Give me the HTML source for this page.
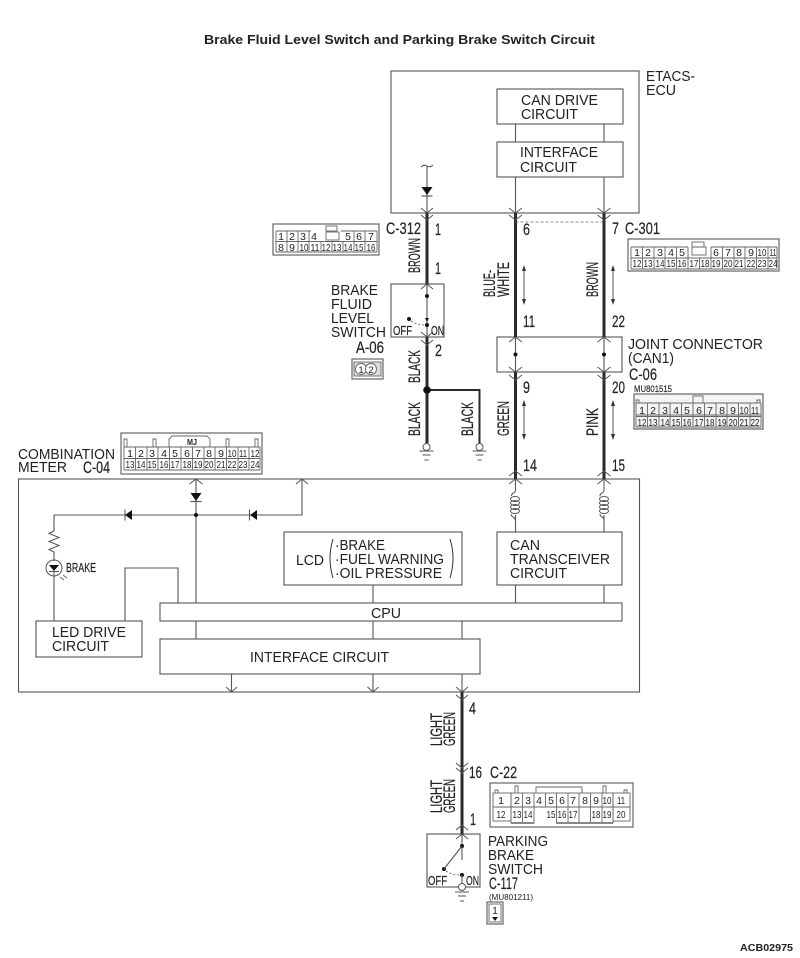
<!DOCTYPE html>
<html><head><meta charset="utf-8"><style>
html,body{margin:0;padding:0;background:#fff}
svg{display:block;filter:blur(.3px)}
text{font-family:"Liberation Sans",sans-serif;fill:#222}
.s{font-size:14.4px}
.n{font-size:16.5px}
.n text{stroke:#222;stroke-width:.2}
.c text{font-size:10.5px;text-anchor:middle}
.w{fill:none;stroke:#555;stroke-width:1.1}
.t{fill:none;stroke:#2a2a2a;stroke-width:3}
.k{fill:none;stroke:#555;stroke-width:1}
.g{fill:none;stroke:#666;stroke-width:.9}
</style></head><body>
<svg width="800" height="958" viewBox="0 0 800 958" xmlns="http://www.w3.org/2000/svg">
<text x="204" y="44" font-size="12.8" font-weight="bold" textLength="391" lengthAdjust="spacingAndGlyphs">Brake Fluid Level Switch and Parking Brake Switch Circuit</text>
<text x="740" y="951" font-size="10.5" font-weight="bold" textLength="53" lengthAdjust="spacingAndGlyphs">ACB02975</text>

<!-- boxes -->
<g class="w">
<rect x="391" y="71" width="248" height="142"/>
<rect x="497" y="89" width="126" height="35"/>
<rect x="497" y="142" width="126" height="35"/>
<rect x="391" y="284" width="53" height="53"/>
<rect x="497" y="337" width="125" height="35"/>
<rect x="18.500" y="479" width="621" height="213"/>
<rect x="284" y="532" width="178" height="53"/>
<rect x="497" y="532" width="125" height="53"/>
<rect x="160" y="603" width="462" height="18"/>
<rect x="160" y="639" width="320" height="35"/>
<rect x="36" y="621" width="106" height="36"/>
<rect x="427" y="834" width="53" height="53"/>
<!-- thin wires -->
<path d="M515.500 124V142M604 124V142M515.500 177V213M604 177V213M427 166V213"/>
<path d="M427 284V337M515.500 337V372M604 337V372"/>
<path d="M515.500 515V532M604 515V532M515.500 585V603M604 585V603"/>
<path d="M373 585V603M373 621V639M462 621V639M196 621V639M196 479V603"/>
<path d="M302 479V515H54V531M54 552V621M125 621V568H178V603"/>
<path d="M231.500 674V692M373 674V692M462 674V692"/>
<path d="M462 834V860"/>
</g>
<path d="M421 167q3-3 6-1t6-1" class="k"/>
<path d="M54 531l-5 2.500 10 4-10 4 10 4-10 4 5 2.500" class="k"/>

<!-- coils -->
<g class="k">
<path d="M515.500 479V490q0 2-2 3t-2 3M511 514q0 2 2 3t2.500 3V532"/>
<ellipse cx="515" cy="499" rx="4.500" ry="2.500"/><ellipse cx="515" cy="503" rx="4.500" ry="2.500"/><ellipse cx="515" cy="507" rx="4.500" ry="2.500"/><ellipse cx="515" cy="511" rx="4.500" ry="2.500"/>
<path d="M604 479V490q0 2-2 3t-2 3M600 514q0 2 2 3t2 3V532"/>
<ellipse cx="604" cy="499" rx="4.500" ry="2.500"/><ellipse cx="604" cy="503" rx="4.500" ry="2.500"/><ellipse cx="604" cy="507" rx="4.500" ry="2.500"/><ellipse cx="604" cy="511" rx="4.500" ry="2.500"/>
</g>

<!-- thick wires -->
<path class="t" d="M427 213V284M427 337V443M515.500 213V337M515.500 372V479M604 213V337M604 372V479M462 692V834"/>
<path d="M427 390H479.500V443" fill="none" stroke="#2a2a2a" stroke-width="2"/>
<circle cx="427" cy="390" r="3.800" fill="#111"/>
<path d="M515.500 222H604" fill="none" stroke="#666" stroke-width=".8" stroke-dasharray="3 2"/>

<!-- chevrons -->
<g class="k">
<path d="M421 208l6 5 6-5M421 215l6 5 6-5M509 208l6.500 5 6.500-5M509 215l6.500 5 6.500-5M597.500 208l6.500 5 6.500-5M597.500 215l6.500 5 6.500-5"/>
<path d="M421 289l6-5 6 5M421 332l6 5 6-5M421 340l6 5 6-5"/>
<path d="M509 342l6.500-5 6.500 5M597.500 342l6.500-5 6.500 5M509 367l6.500 5 6.500-5M509 375l6.500 5 6.500-5M597.500 367l6.500 5 6.500-5M597.500 375l6.500 5 6.500-5"/>
<path d="M509 484l6.500-5 6.500 5M597.500 484l6.500-5 6.500 5M509 476l6.500-5 6.500 5M597.500 476l6.500-5 6.500 5M189.500 484l6.500-5 6.500 5M296 484l6-5 6 5"/>
<path d="M226 687l5.500 5 5.500-5M367.500 687l5.500 5 5.500-5M456 687l6 5 6-5M456 695l6 5 6-5M456 763l6 5 6-5M456 768l6 5 6-5M456 839l6-5 6 5M456 830l6-5 6 5"/>
</g>

<!-- diodes -->
<path d="M421.500 187h11l-5.500 8z" fill="#111"/><path d="M421.500 196h11" class="w"/>
<path d="M190.500 493h11l-5.500 8z" fill="#111"/><path d="M190.500 501.500h11" class="w"/>
<path d="M132 510v10l-7-5z" fill="#111"/><path d="M125 509.500v11" class="w"/>
<path d="M257 510v10l-7-5z" fill="#111"/><path d="M249.500 509.500v11" class="w"/>
<circle cx="196" cy="515" r="2" fill="#111"/>
<circle cx="515.500" cy="354.500" r="2" fill="#111"/><circle cx="604" cy="354.500" r="2" fill="#111"/>

<!-- LED -->
<circle cx="54" cy="568" r="8" fill="#fff" stroke="#555"/>
<path d="M49 565h10l-5 6z" fill="#111"/><path d="M49 571.500h10M54 555v6M54 572v5" class="k"/>
<path d="M60 577l4 3M63 575l4 3" class="g"/>
<text x="66" y="572" font-size="12.500" stroke="#222" stroke-width=".2" textLength="30" lengthAdjust="spacingAndGlyphs">BRAKE</text>

<!-- double arrows -->
<g class="k">
<path d="M524 268V302M613 268V302M524 403V437M613 403V437"/>
</g>
<g fill="#333">
<path d="M522 271l2-6 2 6zM522 299l2 6 2-6zM611 271l2-6 2 6zM611 299l2 6 2-6zM522 406l2-6 2 6zM522 434l2 6 2-6zM611 406l2-6 2 6zM611 434l2 6 2-6z"/>
</g>

<!-- brake switch -->
<circle cx="427" cy="296" r="2" fill="#111"/>
<circle cx="409" cy="319" r="2" fill="#111"/>
<circle cx="427" cy="325" r="2" fill="#111"/>
<path d="M425 318h4l-2 4z" fill="#111"/>
<path d="M411 321q6 4 14 4" fill="none" stroke="#555" stroke-dasharray="2 2" stroke-width=".8"/>
<text x="393" y="335" font-size="13" stroke="#222" stroke-width=".2" textLength="19" lengthAdjust="spacingAndGlyphs">OFF</text>
<text x="431" y="335" font-size="13" stroke="#222" stroke-width=".2" textLength="13" lengthAdjust="spacingAndGlyphs">ON</text>

<!-- parking switch -->
<circle cx="462" cy="846" r="2" fill="#111"/><circle cx="444" cy="869" r="2" fill="#111"/><circle cx="462" cy="875" r="2" fill="#111"/>
<path d="M462 846L444 869M462 875V884" class="w"/>
<path d="M446 871q6 4 14 4" fill="none" stroke="#555" stroke-dasharray="2 2" stroke-width=".8"/>
<text x="428" y="885" font-size="13" stroke="#222" stroke-width=".2" textLength="19" lengthAdjust="spacingAndGlyphs">OFF</text>
<text x="466" y="885" font-size="13" stroke="#222" stroke-width=".2" textLength="13" lengthAdjust="spacingAndGlyphs">ON</text>
<circle cx="462" cy="887" r="3.500" fill="#fff" stroke="#555"/>
<path d="M455 892h14M458 896h8M460 901h4" class="k"/>

<!-- grounds -->
<circle cx="426.500" cy="447" r="3.500" fill="#fff" stroke="#555"/><path d="M419.500 451h14M422.500 455h8M424.500 460h4" class="k"/>
<circle cx="479.500" cy="447" r="3.500" fill="#fff" stroke="#555"/><path d="M472.500 451h14M475.500 455h8M477.500 460h4" class="k"/>

<!-- Sans labels -->
<g class="s">
<text x="646" y="81" textLength="49" lengthAdjust="spacingAndGlyphs">ETACS-</text>
<text x="646" y="95" textLength="30" lengthAdjust="spacingAndGlyphs">ECU</text>
<text x="521" y="105" textLength="77" lengthAdjust="spacingAndGlyphs">CAN DRIVE</text>
<text x="521" y="119" textLength="57" lengthAdjust="spacingAndGlyphs">CIRCUIT</text>
<text x="520" y="157" textLength="78" lengthAdjust="spacingAndGlyphs">INTERFACE</text>
<text x="520" y="172" textLength="57" lengthAdjust="spacingAndGlyphs">CIRCUIT</text>
<text x="331" y="295" textLength="47" lengthAdjust="spacingAndGlyphs">BRAKE</text>
<text x="331" y="309" textLength="41" lengthAdjust="spacingAndGlyphs">FLUID</text>
<text x="331" y="323" textLength="43" lengthAdjust="spacingAndGlyphs">LEVEL</text>
<text x="331" y="337" textLength="55" lengthAdjust="spacingAndGlyphs">SWITCH</text>
<text x="628" y="349" textLength="135" lengthAdjust="spacingAndGlyphs">JOINT CONNECTOR</text>
<text x="628" y="363" textLength="46" lengthAdjust="spacingAndGlyphs">(CAN1)</text>
<text x="18" y="459" textLength="97" lengthAdjust="spacingAndGlyphs">COMBINATION</text>
<text x="18" y="472" textLength="49" lengthAdjust="spacingAndGlyphs">METER</text>
<text x="296" y="565" textLength="28" lengthAdjust="spacingAndGlyphs">LCD</text>
<text x="335" y="550" textLength="50" lengthAdjust="spacingAndGlyphs">·BRAKE</text>
<text x="335" y="564" textLength="109" lengthAdjust="spacingAndGlyphs">·FUEL WARNING</text>
<text x="335" y="578" textLength="107" lengthAdjust="spacingAndGlyphs">·OIL PRESSURE</text>
<text x="510" y="550" textLength="30" lengthAdjust="spacingAndGlyphs">CAN</text>
<text x="510" y="564" textLength="100" lengthAdjust="spacingAndGlyphs">TRANSCEIVER</text>
<text x="510" y="578" textLength="57" lengthAdjust="spacingAndGlyphs">CIRCUIT</text>
<text x="371" y="618" textLength="30" lengthAdjust="spacingAndGlyphs">CPU</text>
<text x="250" y="662" textLength="139" lengthAdjust="spacingAndGlyphs">INTERFACE CIRCUIT</text>
<text x="52" y="637" textLength="74" lengthAdjust="spacingAndGlyphs">LED DRIVE</text>
<text x="52" y="651" textLength="57" lengthAdjust="spacingAndGlyphs">CIRCUIT</text>
<text x="488" y="846" textLength="60" lengthAdjust="spacingAndGlyphs">PARKING</text>
<text x="488" y="860" textLength="46" lengthAdjust="spacingAndGlyphs">BRAKE</text>
<text x="488" y="874" textLength="55" lengthAdjust="spacingAndGlyphs">SWITCH</text>
</g>
<path d="M333 539q-6 19 0 39M450 539q6 19 0 39" fill="none" stroke="#333" stroke-width="1"/>

<!-- narrow labels -->
<g class="n">
<text x="386" y="234" textLength="35" lengthAdjust="spacingAndGlyphs">C-312</text>
<text x="435" y="235" textLength="6" lengthAdjust="spacingAndGlyphs">1</text>
<text x="435" y="274" textLength="6" lengthAdjust="spacingAndGlyphs">1</text>
<text x="435" y="356" textLength="7" lengthAdjust="spacingAndGlyphs">2</text>
<text x="356" y="353" textLength="28" lengthAdjust="spacingAndGlyphs">A-06</text>
<text x="523" y="235" textLength="7" lengthAdjust="spacingAndGlyphs">6</text>
<text x="612" y="234" textLength="7" lengthAdjust="spacingAndGlyphs">7</text>
<text x="625" y="234" textLength="35" lengthAdjust="spacingAndGlyphs">C-301</text>
<text x="523" y="327" textLength="12" lengthAdjust="spacingAndGlyphs">11</text>
<text x="612" y="327" textLength="13" lengthAdjust="spacingAndGlyphs">22</text>
<text x="523" y="393" textLength="7" lengthAdjust="spacingAndGlyphs">9</text>
<text x="612" y="393" textLength="13" lengthAdjust="spacingAndGlyphs">20</text>
<text x="629" y="380" textLength="28" lengthAdjust="spacingAndGlyphs">C-06</text>
<text x="523" y="471" textLength="14" lengthAdjust="spacingAndGlyphs">14</text>
<text x="612" y="471" textLength="13" lengthAdjust="spacingAndGlyphs">15</text>
<text x="83" y="473" textLength="27" lengthAdjust="spacingAndGlyphs">C-04</text>
<text x="469" y="714" textLength="7" lengthAdjust="spacingAndGlyphs">4</text>
<text x="469" y="778" textLength="13" lengthAdjust="spacingAndGlyphs">16</text>
<text x="490" y="778" textLength="27" lengthAdjust="spacingAndGlyphs">C-22</text>
<text x="470" y="825" textLength="6" lengthAdjust="spacingAndGlyphs">1</text>
<text x="489" y="889" textLength="29" lengthAdjust="spacingAndGlyphs">C-117</text>
<!-- vertical -->
<text transform="translate(420,273) rotate(-90)" textLength="35" lengthAdjust="spacingAndGlyphs">BROWN</text>
<text transform="translate(420,383) rotate(-90)" textLength="33" lengthAdjust="spacingAndGlyphs">BLACK</text>
<text transform="translate(420,436) rotate(-90)" textLength="34" lengthAdjust="spacingAndGlyphs">BLACK</text>
<text transform="translate(473,436) rotate(-90)" textLength="34" lengthAdjust="spacingAndGlyphs">BLACK</text>
<text transform="translate(495,297) rotate(-90)" textLength="27" lengthAdjust="spacingAndGlyphs">BLUE-</text>
<text transform="translate(509,297) rotate(-90)" textLength="35" lengthAdjust="spacingAndGlyphs">WHITE</text>
<text transform="translate(598,297) rotate(-90)" textLength="35" lengthAdjust="spacingAndGlyphs">BROWN</text>
<text transform="translate(509,436) rotate(-90)" textLength="35" lengthAdjust="spacingAndGlyphs">GREEN</text>
<text transform="translate(598,436) rotate(-90)" textLength="28" lengthAdjust="spacingAndGlyphs">PINK</text>
<text transform="translate(442,746) rotate(-90)" textLength="33" lengthAdjust="spacingAndGlyphs">LIGHT</text>
<text transform="translate(455,746) rotate(-90)" textLength="34" lengthAdjust="spacingAndGlyphs">GREEN</text>
<text transform="translate(442,813) rotate(-90)" textLength="33" lengthAdjust="spacingAndGlyphs">LIGHT</text>
<text transform="translate(455,813) rotate(-90)" textLength="34" lengthAdjust="spacingAndGlyphs">GREEN</text>
</g>
<text x="634" y="392" font-size="9.500" stroke="#222" stroke-width=".15" textLength="38" lengthAdjust="spacingAndGlyphs">MU801515</text>
<text x="489" y="900" font-size="8.500" textLength="44" lengthAdjust="spacingAndGlyphs">(MU801211)</text>

<!-- C-312 -->
<g class="g">
<rect x="273" y="224" width="106" height="31" stroke-width="1.200"/>
<path d="M276 231h35M341 231h36M276 241.500h101M276 252h101M276 231v21M287 231v21M298 231v21M309 231v21M321 241.500v10.500M332 241.500v10.500M343 241.500v10.500M354 231v21M365 231v21M377 231v21"/>
<rect x="326" y="226" width="11" height="5"/><rect x="326" y="232" width="13" height="8"/>
</g>
<g class="c">
<text x="281" y="240">1</text><text x="292" y="240">2</text><text x="303" y="240">3</text><text x="314" y="240">4</text><text x="348" y="240">5</text><text x="359" y="240">6</text><text x="371" y="240">7</text>
<text x="281" y="251">8</text><text x="292" y="251">9</text><text x="304" y="251" textLength="9" lengthAdjust="spacingAndGlyphs">10</text><text x="315" y="251" textLength="9" lengthAdjust="spacingAndGlyphs">11</text><text x="326" y="251" textLength="9" lengthAdjust="spacingAndGlyphs">12</text><text x="337" y="251" textLength="9" lengthAdjust="spacingAndGlyphs">13</text><text x="348" y="251" textLength="9" lengthAdjust="spacingAndGlyphs">14</text><text x="359" y="251" textLength="9" lengthAdjust="spacingAndGlyphs">15</text><text x="371" y="251" textLength="9" lengthAdjust="spacingAndGlyphs">16</text>
</g>

<!-- C-301 -->
<g class="g">
<rect x="628" y="239" width="151" height="32" stroke-width="1.200"/>
<path d="M631 247h57M711 247h66M631 258h146M631 269h146M631 247v22M642.500 247v22M654 247v22M665 247v22M676.500 247v22M688 247v22M699.500 258v11M711 247v22M722.500 247v22M734 247v22M745 247v22M756.500 247v22M768 247v22M777 247v22"/>
<rect x="692" y="242" width="12" height="5"/><rect x="692" y="247" width="14" height="8"/>
</g>
<g class="c">
<text x="637" y="256">1</text><text x="648" y="256">2</text><text x="660" y="256">3</text><text x="671" y="256">4</text><text x="682" y="256">5</text><text x="716" y="256">6</text><text x="728" y="256">7</text><text x="739" y="256">8</text><text x="751" y="256">9</text><text x="762" y="256" textLength="9" lengthAdjust="spacingAndGlyphs">10</text><text x="773" y="256" textLength="7" lengthAdjust="spacingAndGlyphs">11</text>
<text x="637" y="267" textLength="9" lengthAdjust="spacingAndGlyphs">12</text><text x="648" y="267" textLength="9" lengthAdjust="spacingAndGlyphs">13</text><text x="660" y="267" textLength="9" lengthAdjust="spacingAndGlyphs">14</text><text x="671" y="267" textLength="9" lengthAdjust="spacingAndGlyphs">15</text><text x="682" y="267" textLength="9" lengthAdjust="spacingAndGlyphs">16</text><text x="694" y="267" textLength="9" lengthAdjust="spacingAndGlyphs">17</text><text x="705" y="267" textLength="9" lengthAdjust="spacingAndGlyphs">18</text><text x="716" y="267" textLength="9" lengthAdjust="spacingAndGlyphs">19</text><text x="728" y="267" textLength="9" lengthAdjust="spacingAndGlyphs">20</text><text x="739" y="267" textLength="9" lengthAdjust="spacingAndGlyphs">21</text><text x="751" y="267" textLength="9" lengthAdjust="spacingAndGlyphs">22</text><text x="762" y="267" textLength="9" lengthAdjust="spacingAndGlyphs">23</text><text x="773" y="267" textLength="9" lengthAdjust="spacingAndGlyphs">24</text>
</g>

<!-- C-06 -->
<g class="g">
<rect x="634" y="394" width="129" height="35" stroke-width="1.200" fill="#f4f4f4"/>
<path d="M636 403h125M636 415h125M636 416.500h125M636 427h125M636 403v24M647.500 403v24M659 403v24M670 403v24M681.500 403v24M693 403v24M704.500 403v24M716 403v24M727 403v24M738.500 403v24M750 403v24M761 403v24"/>
<path d="M693 403v-7h10v7" /><path d="M636 403v-3h3v3M757 403v-3h3v3"/>
</g>
<g class="c">
<text x="642" y="414">1</text><text x="653" y="414">2</text><text x="665" y="414">3</text><text x="676" y="414">4</text><text x="687" y="414">5</text><text x="699" y="414">6</text><text x="710" y="414">7</text><text x="722" y="414">8</text><text x="733" y="414">9</text><text x="744" y="414" textLength="9" lengthAdjust="spacingAndGlyphs">10</text><text x="755" y="414" textLength="8" lengthAdjust="spacingAndGlyphs">11</text>
<text x="642" y="426" textLength="9" lengthAdjust="spacingAndGlyphs">12</text><text x="653" y="426" textLength="9" lengthAdjust="spacingAndGlyphs">13</text><text x="665" y="426" textLength="9" lengthAdjust="spacingAndGlyphs">14</text><text x="676" y="426" textLength="9" lengthAdjust="spacingAndGlyphs">15</text><text x="687" y="426" textLength="9" lengthAdjust="spacingAndGlyphs">16</text><text x="699" y="426" textLength="9" lengthAdjust="spacingAndGlyphs">17</text><text x="710" y="426" textLength="9" lengthAdjust="spacingAndGlyphs">18</text><text x="722" y="426" textLength="9" lengthAdjust="spacingAndGlyphs">19</text><text x="733" y="426" textLength="9" lengthAdjust="spacingAndGlyphs">20</text><text x="744" y="426" textLength="9" lengthAdjust="spacingAndGlyphs">21</text><text x="755" y="426" textLength="9" lengthAdjust="spacingAndGlyphs">22</text>
</g>

<!-- C-04 -->
<g class="g">
<rect x="121" y="433" width="141" height="41" stroke-width="1.200"/>
<path d="M124 447h136M124 458.500h136M124 470h136M124 447v23M135.500 447v23M147 447v23M158 447v23M169.500 447v23M181 447v23M192.500 447v23M204 447v23M215 447v23M226.500 447v23M238 447v23M249 447v23M260 447v23"/>
<path d="M169 447v-8l3-3h35l3 3v8M124 447v-8h3v8M255 447v-8h3v8M153 447v-8h3v8M226 447v-8h3v8"/>
</g>
<text x="187" y="445" font-size="8" font-weight="bold" textLength="10" lengthAdjust="spacingAndGlyphs">MJ</text>
<g class="c">
<text x="130" y="457">1</text><text x="141" y="457">2</text><text x="152" y="457">3</text><text x="164" y="457">4</text><text x="175" y="457">5</text><text x="187" y="457">6</text><text x="198" y="457">7</text><text x="209" y="457">8</text><text x="221" y="457">9</text><text x="232" y="457" textLength="9" lengthAdjust="spacingAndGlyphs">10</text><text x="243" y="457" textLength="8" lengthAdjust="spacingAndGlyphs">11</text><text x="255" y="457" textLength="9" lengthAdjust="spacingAndGlyphs">12</text>
<text x="130" y="468" textLength="9" lengthAdjust="spacingAndGlyphs">13</text><text x="141" y="468" textLength="9" lengthAdjust="spacingAndGlyphs">14</text><text x="152" y="468" textLength="9" lengthAdjust="spacingAndGlyphs">15</text><text x="164" y="468" textLength="9" lengthAdjust="spacingAndGlyphs">16</text><text x="175" y="468" textLength="9" lengthAdjust="spacingAndGlyphs">17</text><text x="187" y="468" textLength="9" lengthAdjust="spacingAndGlyphs">18</text><text x="198" y="468" textLength="9" lengthAdjust="spacingAndGlyphs">19</text><text x="209" y="468" textLength="9" lengthAdjust="spacingAndGlyphs">20</text><text x="221" y="468" textLength="9" lengthAdjust="spacingAndGlyphs">21</text><text x="232" y="468" textLength="9" lengthAdjust="spacingAndGlyphs">22</text><text x="243" y="468" textLength="9" lengthAdjust="spacingAndGlyphs">23</text><text x="255" y="468" textLength="9" lengthAdjust="spacingAndGlyphs">24</text>
</g>

<!-- A-06 -->
<g class="g">
<rect x="352" y="359" width="31" height="20" stroke-width="1.200"/>
<rect x="354" y="362" width="27" height="14" fill="#ddd"/>
<circle cx="361" cy="369" r="5.500" fill="#fff"/><circle cx="371" cy="369" r="5.500" fill="#fff"/>
</g>
<text x="361" y="373" font-size="9.500" text-anchor="middle">1</text><text x="371" y="373" font-size="9.500" text-anchor="middle">2</text>

<!-- C-22 -->
<g class="g">
<rect x="490" y="783" width="143" height="44" stroke-width="1.200"/>
<rect x="493" y="793" width="18" height="28" />
<rect x="511" y="793" width="102" height="14"/>
<rect x="613" y="793" width="17" height="28"/>
<path d="M493 807h137M511 793v30h23v-16M534 807v-14M545.500 793v14M556.500 793v30h34v-30M568 793v30M579 793v30M590.500 793v14M602 793v30M613 793v30M522.500 793v30M568 807v16M590.500 807v16h22.500"/>
<path d="M515 793v-7h3v7M603 793v-7h3v7M495 793v-3h3v3M624 793v-3h3v3" />
<path d="M536 793v-6h46v6"/>
<path d="M511 823h23M556.500 823h34M590.500 823h22.500" stroke-width="2" stroke="#888"/>
</g>
<g class="c">
<text x="501" y="804">1</text><text x="517" y="804">2</text><text x="528" y="804">3</text><text x="539" y="804">4</text><text x="551" y="804">5</text><text x="562" y="804">6</text><text x="573" y="804">7</text><text x="585" y="804">8</text><text x="596" y="804">9</text><text x="607" y="804" textLength="9" lengthAdjust="spacingAndGlyphs">10</text><text x="621" y="804" textLength="8" lengthAdjust="spacingAndGlyphs">11</text>
<text x="501" y="818" textLength="9" lengthAdjust="spacingAndGlyphs">12</text><text x="517" y="818" textLength="9" lengthAdjust="spacingAndGlyphs">13</text><text x="528" y="818" textLength="9" lengthAdjust="spacingAndGlyphs">14</text><text x="551" y="818" textLength="9" lengthAdjust="spacingAndGlyphs">15</text><text x="562" y="818" textLength="9" lengthAdjust="spacingAndGlyphs">16</text><text x="573" y="818" textLength="9" lengthAdjust="spacingAndGlyphs">17</text><text x="596" y="818" textLength="9" lengthAdjust="spacingAndGlyphs">18</text><text x="607" y="818" textLength="9" lengthAdjust="spacingAndGlyphs">19</text><text x="621" y="818" textLength="9" lengthAdjust="spacingAndGlyphs">20</text>
</g>

<!-- C-117 -->
<g class="g">
<rect x="487" y="902" width="16" height="22" stroke-width="1.200"/>
<rect x="489" y="904" width="12" height="18"/>
</g>
<text x="495" y="914" font-size="10" text-anchor="middle">1</text>
<path d="M492 917h6l-3 4z" fill="#111"/>
</svg>
</body></html>
